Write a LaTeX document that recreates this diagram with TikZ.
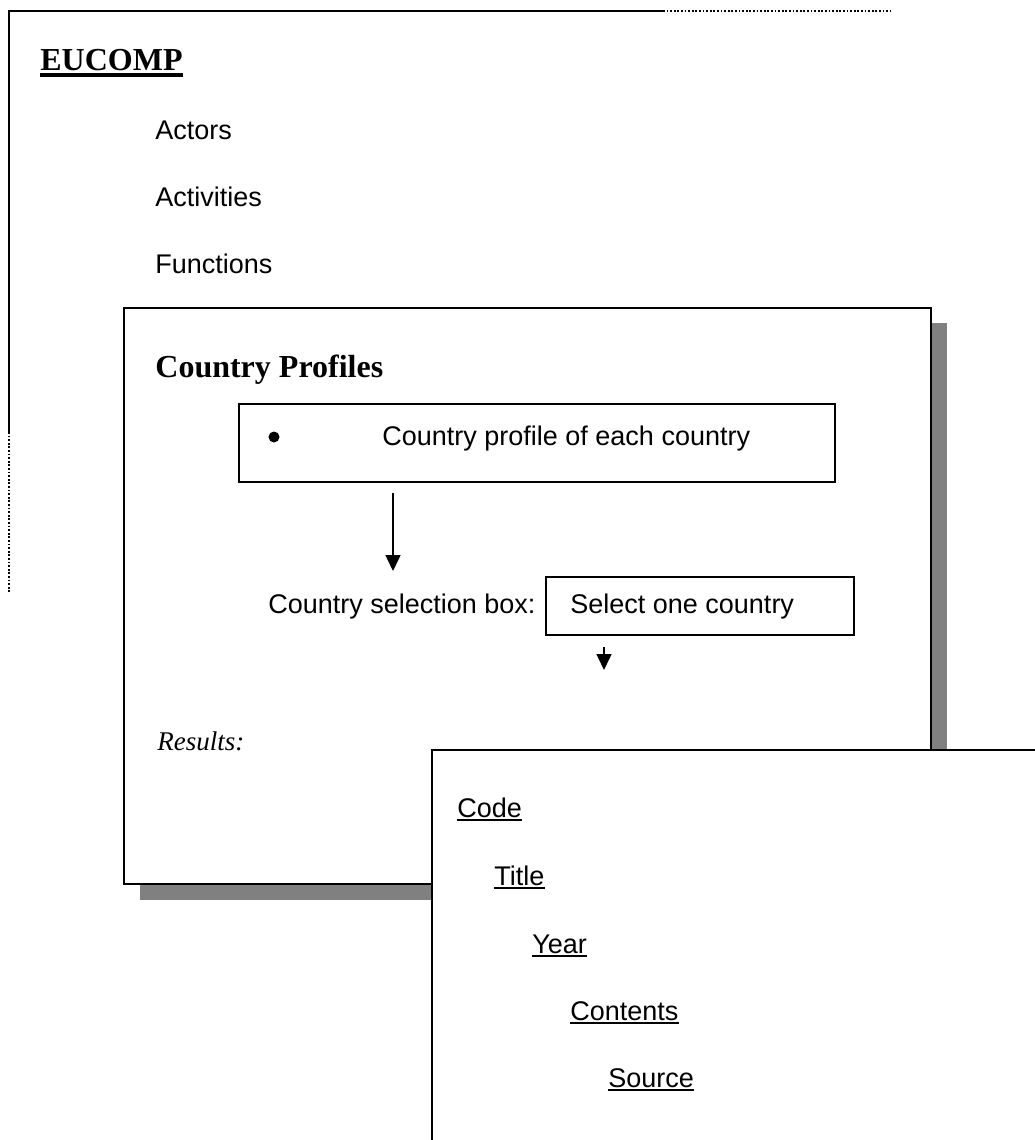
\documentclass[tikz,border=0pt]{standalone}
\usepackage{fontspec}
\setmainfont{Liberation Serif}
\setsansfont{Liberation Sans}
\usetikzlibrary{arrows.meta}

\begin{document}
\begin{tikzpicture}[x=0.5pt,y=-0.5pt,
  frameline/.style={line width=1pt},
  dotline/.style={line width=0.8pt, dash pattern=on 0.9pt off 0.9pt},
  panel/.style={draw=black, line width=1pt, fill=white},
  shade/.style={fill=black!50},
  body/.style={inner sep=0pt, anchor=base west, font=\sffamily\fontsize{13.5}{16}\selectfont},
  heading/.style={inner sep=0pt, anchor=base west, font=\rmfamily\bfseries\fontsize{16}{19}\selectfont},
  note/.style={inner sep=0pt, anchor=base west, font=\rmfamily\itshape\fontsize{13.5}{16}\selectfont},
  flow/.style={line width=0.75pt, -{Triangle[width=7.5pt,length=8pt]}},
  uline/.style={line width=1.1pt}
]
\useasboundingbox (0,0) rectangle (1034,1140);

% outer page frame: solid corner, dotted continuation
\coordinate (ftl) at (9,11);
\coordinate (ftm) at (663,11);
\coordinate (ftr) at (890,11);
\coordinate (flm) at (9,432);
\coordinate (flb) at (9,592);
\draw[frameline] (flm) -- (ftl) -- (ftm);
\draw[dotline] (ftm) -- (ftr);
\draw[dotline] (flm) -- (flb);

\node[heading] (eucomp) at (40,70) {EUCOMP};
\draw[line width=1.6pt] ([yshift=-2.5pt]eucomp.base west) -- ([yshift=-2.5pt]eucomp.base east);

\node[body] (actors) at (155,139) {Actors};
\node[body] (activities) at (155,206) {Activities};
\node[body] (functions) at (155,273) {Functions};

% country profiles panel with drop shadow
\fill[shade] (140,323) rectangle (947,900);
\draw[panel] (124,308) rectangle (931,884);
\node[heading] (cprof) at (155,377) {Country Profiles};

\node[panel, inner sep=0pt, minimum width=298pt, minimum height=39pt] (box1) at (537,443) {};
\node[circle, fill=black, inner sep=0pt, minimum size=5.5pt] (bullet) at (274,437) {};
\node[body] (box1txt) at (382,445) {Country profile of each country};

\coordinate (a1top) at (393,493);
\coordinate (a1tip) at (393,571);
\draw[flow] (a1top) -- (a1tip);

\node[body] (sellbl) at (268,613) {Country selection box:};
\node[panel, inner sep=0pt, minimum width=154pt, minimum height=29pt] (selbox) at (700,606) {};
\node[body] (seltxt) at (570,613) {Select one country};

\coordinate (a2top) at (604,647);
\coordinate (a2tip) at (604,670);
\draw[flow] (a2top) -- (a2tip);

\node[note] (results) at (157,750) {Results:};

% results panel, running off the page
\draw[panel] (432,750) rectangle (1050,1160);
\node[body] (code) at (457,817) {Code};
\node[body] (title) at (494,885) {Title};
\node[body] (year) at (532,953) {Year};
\node[body] (contents) at (570,1020) {Contents};
\node[body] (source) at (608,1087) {Source};
\foreach \n in {code,title,year,contents,source}
  \draw[uline] ([yshift=-1.5pt]\n.base west) -- ([yshift=-1.5pt]\n.base east);
\end{tikzpicture}
\end{document}
